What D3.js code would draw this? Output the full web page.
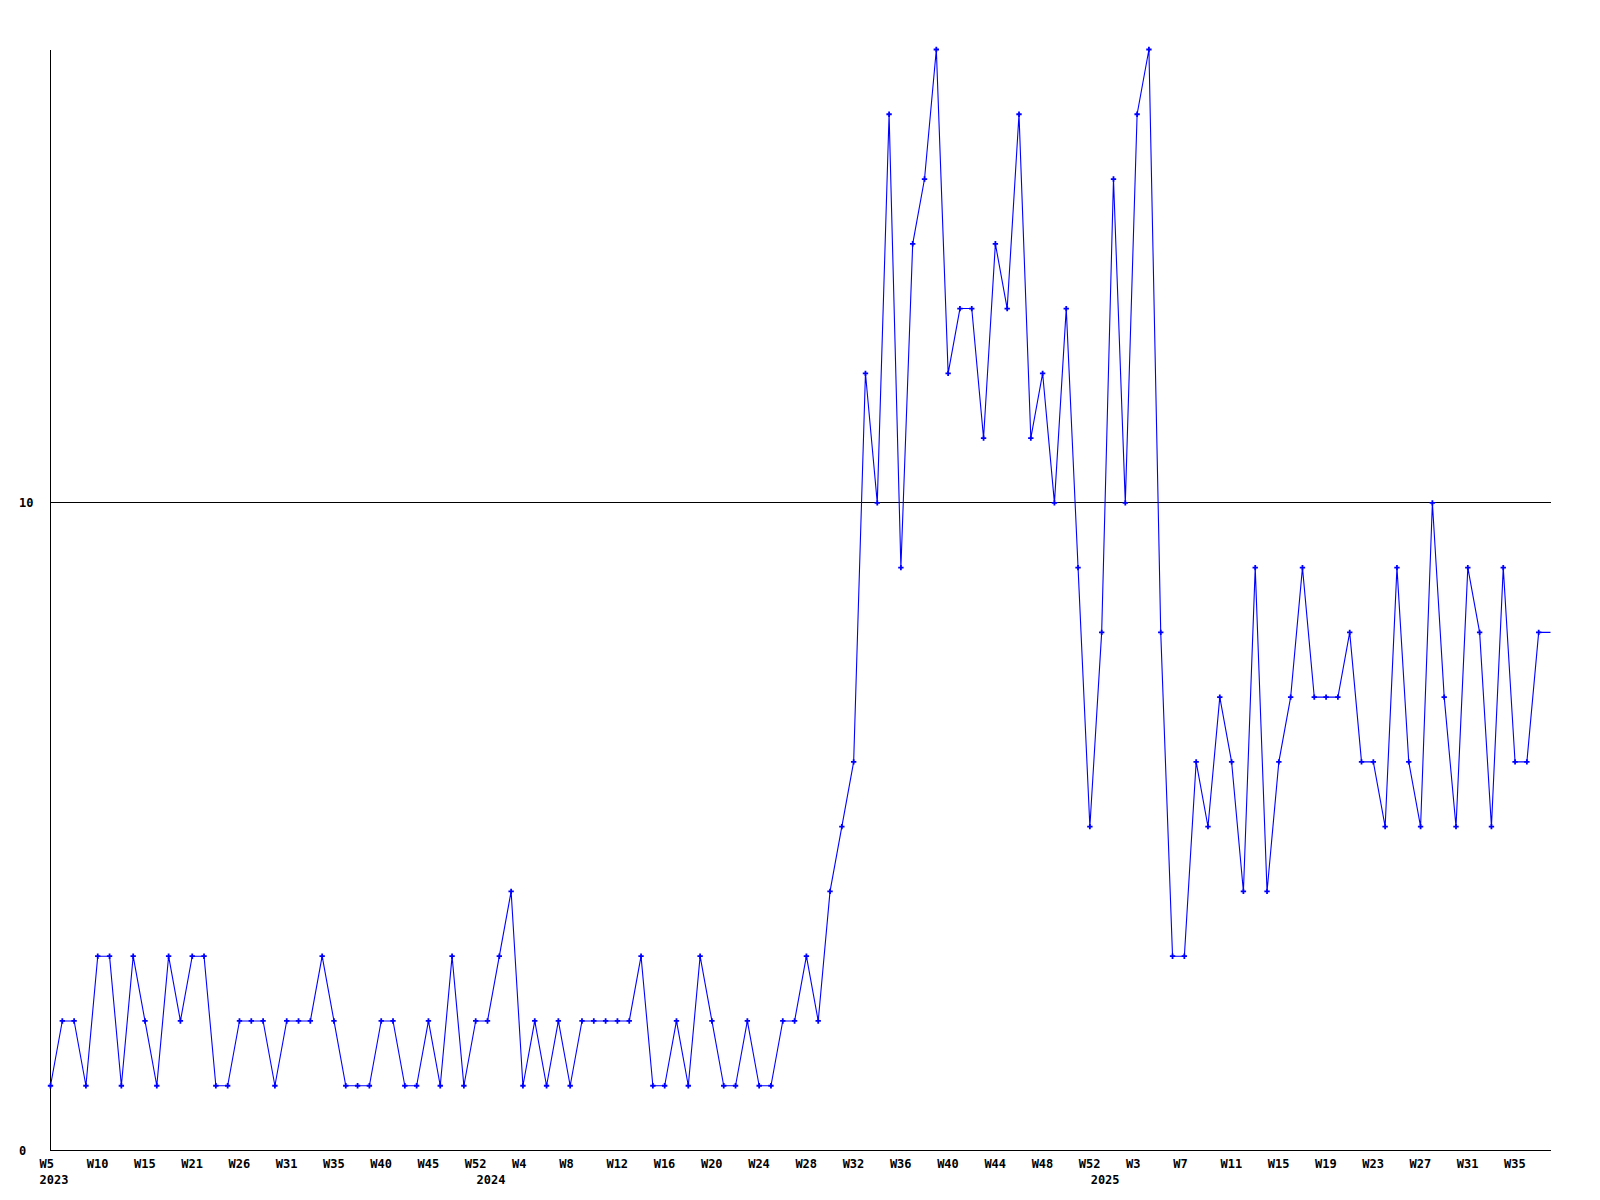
<!DOCTYPE html>
<html lang="en">

<head>
	<meta charset="utf-8">
	<title>Weekly count</title>
	<script type="text/javascript" src="https://cdn.jsdelivr.net/npm/d3@7"></script>
	<style type="text/css">
		body { margin: 0; background: #fff; }
		text { font-family: "DejaVu Sans Mono", monospace; font-weight: bold; font-size: 12px; fill: #000; }
	</style>
</head>

<body>
	<script type="text/javascript">
		//Width and height
		var w = 1600;
		var h = 1200;

		// weekly values, one per category (last one is the open week, no marker)
		var values = [1, 2, 2, 1, 3, 3, 1, 3, 2, 1, 3, 2, 3, 3, 1, 1, 2, 2, 2, 1,
			2, 2, 2, 3, 2, 1, 1, 1, 2, 2, 1, 1, 2, 1, 3, 1, 2, 2, 3, 4,
			1, 2, 1, 2, 1, 2, 2, 2, 2, 2, 3, 1, 1, 2, 1, 3, 2, 1, 1, 2,
			1, 1, 2, 2, 3, 2, 4, 5, 6, 12, 10, 16, 9, 14, 15, 17, 12, 13, 13, 11,
			14, 13, 16, 11, 12, 10, 13, 9, 5, 8, 15, 10, 16, 17, 8, 3, 3, 6, 5, 7,
			6, 4, 9, 4, 6, 7, 9, 7, 7, 7, 8, 6, 6, 5, 9, 6, 5, 10, 7, 5,
			9, 8, 5, 9, 6, 6, 8, 8
		];

		// week labels, one every 4th category
		var weekLabels = ["W5", "W10", "W15", "W21", "W26", "W31", "W35", "W40", "W45", "W52",
			"W4", "W8", "W12", "W16", "W20", "W24", "W28", "W32", "W36", "W40", "W44", "W48", "W52",
			"W3", "W7", "W11", "W15", "W19", "W23", "W27", "W31", "W35"
		];
		var labelEvery = 4;

		// years and the category where each starts
		var years = ["2023", "2024", "2025"];
		var yearStart = [0, 37, 89];

		var yTicks = [0, 10];
		var yMax = 17;

		var plotLeft = 50.5, plotRight = 1550.5, plotTop = 49.5, plotBottom = 1150.5;

		// create scales
		var xScale = d3.scaleLinear()
			.domain([0, values.length - 1])
			.range([plotLeft, plotRight]);

		var yScale = d3.scaleLinear()
			.domain([0, yMax])
			.range([plotBottom, plotTop]);

		//Create SVG element
		var svg = d3.select("body")
			.append("svg")
			.attr("width", w)
			.attr("height", h);

		// grid line + y labels
		svg.selectAll("line.grid")
			.data(yTicks.filter(function (d) { return d > 0; }))
			.enter()
			.append("line")
			.attr("class", "grid")
			.attr("x1", plotLeft)
			.attr("x2", plotRight)
			.attr("y1", function (d) { return Math.round(yScale(d)) - 0.5; })
			.attr("y2", function (d) { return Math.round(yScale(d)) - 0.5; })
			.attr("stroke", "#000")
			.attr("shape-rendering", "crispEdges");

		svg.selectAll("text.ylab")
			.data(yTicks)
			.enter()
			.append("text")
			.attr("class", "ylab")
			.attr("x", 19)
			.attr("y", function (d) { return yScale(d); })
			.attr("dy", "0.36em")
			.text(function (d) { return d; });

		// axes
		svg.append("line")
			.attr("x1", plotLeft).attr("x2", plotLeft)
			.attr("y1", yScale(yMax)).attr("y2", plotBottom)
			.attr("stroke", "#000")
			.attr("shape-rendering", "crispEdges");

		svg.append("line")
			.attr("x1", plotLeft).attr("x2", plotRight)
			.attr("y1", plotBottom).attr("y2", plotBottom)
			.attr("stroke", "#000")
			.attr("shape-rendering", "crispEdges");

		// x labels
		svg.selectAll("text.wk")
			.data(weekLabels)
			.enter()
			.append("text")
			.attr("class", "wk")
			.attr("x", function (d, i) { return xScale(i * labelEvery) - 11; })
			.attr("y", 1168)
			.text(function (d) { return d; });

		svg.selectAll("text.yr")
			.data(years)
			.enter()
			.append("text")
			.attr("class", "yr")
			.attr("x", function (d, i) { return xScale(yearStart[i]) - 11; })
			.attr("y", 1184)
			.text(function (d) { return d; });

		// the line
		var line = d3.line()
			.x(function (d, i) { return xScale(i); })
			.y(function (d) { return yScale(d); });

		svg.append("path")
			.datum(values)
			.attr("d", line)
			.attr("fill", "none")
			.attr("stroke", "#0000ff")
			.attr("stroke-width", 1.1);

		// markers
		svg.selectAll("path.pt")
			.data(values.slice(0, values.length - 1))
			.enter()
			.append("path")
			.attr("class", "pt")
			.attr("d", d3.symbol().type(d3.symbolCross).size(16))
			.attr("transform", function (d, i) {
				return "translate(" + xScale(i) + "," + yScale(d) + ")";
			})
			.attr("fill", "#0000ff");
	</script>
</body>

</html>
